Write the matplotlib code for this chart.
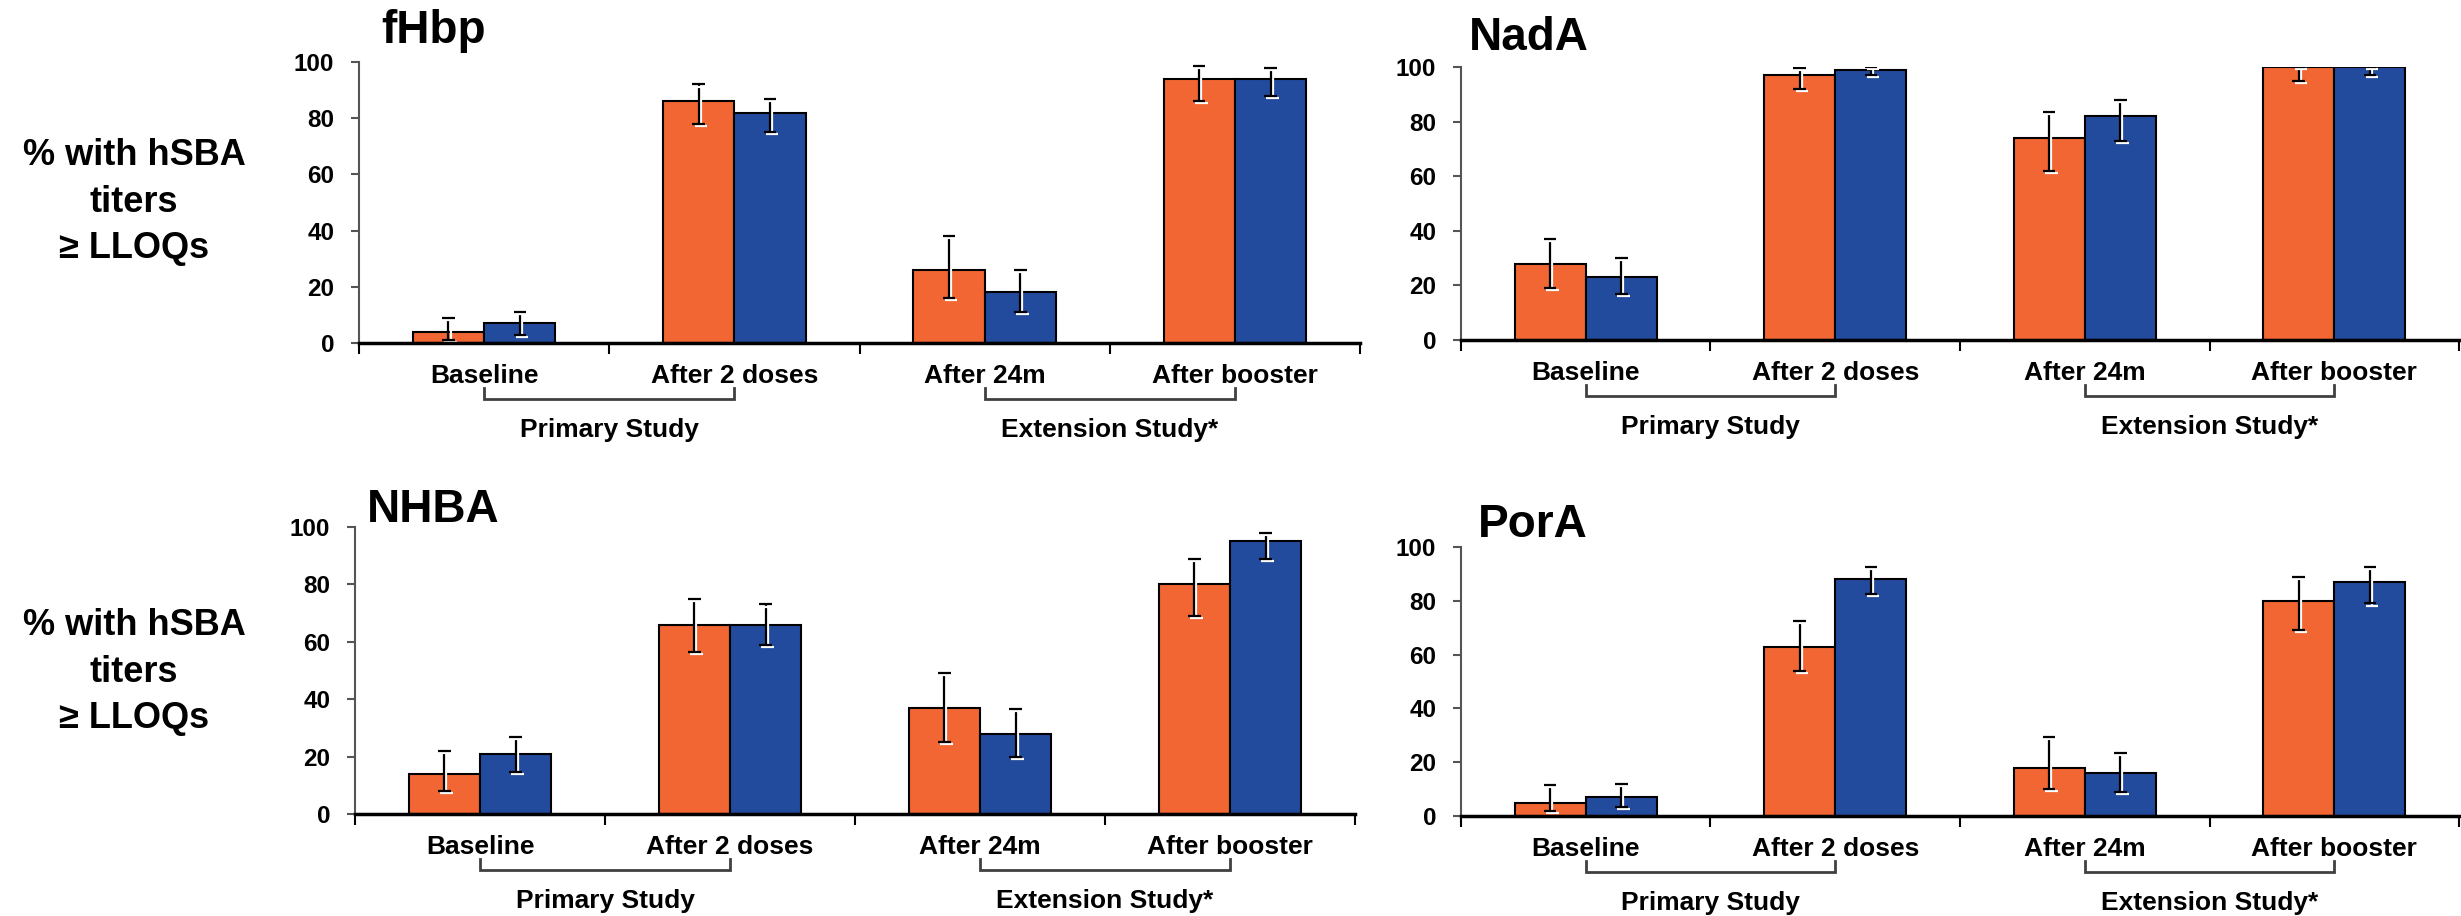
import numpy as np
import matplotlib
matplotlib.use("Agg")
import matplotlib.pyplot as plt
import matplotlib.patheffects as pe

plt.rcParams["font.family"] = ["Liberation Sans", "DejaVu Sans"]
plt.rcParams["font.weight"] = "bold"

W, H = 2461, 916
DPI = 100

categories = ["Baseline", "After 2 doses", "After 24m", "After booster"]
studies = ["Primary Study", "Extension Study*"]
study_spans = [(0, 1), (2, 3)]
ylabel = "% with hSBA\ntiters\n\u2265 LLOQs"

# orange / blue series with lower / upper CI limits
fhbp_orange = [4, 86, 26, 94]
fhbp_orange_lo = [1, 78, 16, 86]
fhbp_orange_hi = [9, 92, 38, 98.5]
fhbp_blue = [7, 82, 18, 94]
fhbp_blue_lo = [3, 75, 11, 88]
fhbp_blue_hi = [11, 87, 26, 98]

nada_orange = [28, 97, 74, 100]
nada_orange_lo = [19, 92, 62, 95]
nada_orange_hi = [37, 99.5, 83.5, 100]
nada_blue = [23, 99, 82, 100]
nada_blue_lo = [17, 97, 73, 97]
nada_blue_hi = [30, 100, 88, 100]

nhba_orange = [14, 66, 37, 80]
nhba_orange_lo = [8, 56.5, 25, 69]
nhba_orange_hi = [22, 75, 49, 89]
nhba_blue = [21, 66, 28, 95]
nhba_blue_lo = [14.5, 59, 20, 89]
nhba_blue_hi = [27, 73, 36.5, 98]

pora_orange = [5, 63, 18, 80]
pora_orange_lo = [2, 54, 10, 69]
pora_orange_hi = [11.5, 72.5, 29.5, 89]
pora_blue = [7, 88, 16, 87]
pora_blue_lo = [3.5, 82.5, 9, 79]
pora_blue_hi = [12, 92.5, 23.5, 92.5]

ORANGE = "#F26634"
BLUE = "#234B9D"
GREY = "#555555"

fig = plt.figure(figsize=(W / DPI, H / DPI), dpi=DPI)


def px_axes(left, top, right, bottom):
    return fig.add_axes([left / W, 1 - bottom / H, (right - left) / W, (bottom - top) / H])


def draw_bars(ax, x, vals, lo, hi, color):
    vals = np.asarray(vals, float)
    err = [vals - np.asarray(lo), np.asarray(hi) - vals]
    ax.bar(x, vals, width=0.285, color=color, edgecolor="black", linewidth=1.5, zorder=2)
    line, caps, bars = ax.errorbar(x, vals, yerr=err, fmt="none", ecolor="black",
                                   elinewidth=1.6, capsize=4.5, capthick=1.6, zorder=3)
    # white drop shadow, only visible over the bars
    shadow = [pe.SimpleLineShadow(offset=(1.5, -1.5), shadow_color="white", alpha=1), pe.Normal()]
    for c in caps:
        c.set_path_effects(shadow)
    for b in bars:
        b.set_path_effects(shadow)


def panel(box, title, title_pos, orange, o_lo, o_hi, blue, b_lo, b_hi):
    ax = px_axes(*box)
    ax_h = box[3] - box[1]
    x = np.arange(len(categories)) + 0.5
    draw_bars(ax, x - 0.1425, orange, o_lo, o_hi, ORANGE)
    draw_bars(ax, x + 0.1425, blue, b_lo, b_hi, BLUE)

    ax.set_xlim(0, len(categories))
    ax.set_ylim(0, 100)
    ax.set_yticks(range(0, 101, 20))
    ax.tick_params(axis="y", length=5.8, width=1.5, color=GREY, labelsize=17.5, pad=12)
    ax.set_xticks(range(len(categories) + 1))
    ax.set_xticklabels([])
    ax.set_xticks(x, minor=True)
    ax.set_xticklabels(categories, minor=True, fontsize=19)
    ax.tick_params(axis="x", which="major", length=8, width=1.5, color="black", direction="out")
    ax.tick_params(axis="x", which="minor", length=0, pad=15)
    for s in ("top", "right"):
        ax.spines[s].set_visible(False)
    ax.spines["left"].set_color(GREY)
    ax.spines["left"].set_linewidth(1.5)
    ax.spines["bottom"].set_linewidth(2.5)
    ax.spines["bottom"].set_zorder(4)

    # brackets under the category labels
    tr = ax.get_xaxis_transform()
    y_top, y_bot, y_txt = -45 / ax_h, -56 / ax_h, -94 / ax_h
    for name, (a, b) in zip(studies, study_spans):
        ax.plot([x[a], x[a], x[b], x[b]], [y_top, y_bot, y_bot, y_top], transform=tr,
                color="#404040", linewidth=2, clip_on=False, solid_joinstyle="miter")
        ax.text((x[a] + x[b]) / 2, y_txt, name, transform=tr, ha="center", va="baseline",
                fontsize=19)

    fig.text(title_pos[0] / W, 1 - title_pos[1] / H, title, fontsize=33,
             ha="left", va="baseline")
    return ax


panel((359, 62, 1360, 343), "fHbp", (381, 43),
      fhbp_orange, fhbp_orange_lo, fhbp_orange_hi, fhbp_blue, fhbp_blue_lo, fhbp_blue_hi)
panel((1461, 67, 2459, 340), "NadA", (1469, 50),
      nada_orange, nada_orange_lo, nada_orange_hi, nada_blue, nada_blue_lo, nada_blue_hi)
panel((355, 527, 1355, 814), "NHBA", (367, 522),
      nhba_orange, nhba_orange_lo, nhba_orange_hi, nhba_blue, nhba_blue_lo, nhba_blue_hi)
panel((1461, 547, 2459, 816), "PorA", (1478, 537),
      pora_orange, pora_orange_lo, pora_orange_hi, pora_blue, pora_blue_lo, pora_blue_hi)

for yc in (202, 672):
    fig.text(134 / W, 1 - yc / H, ylabel, fontsize=26, ha="center", va="center",
             linespacing=1.42)

fig.savefig("out.png", dpi=DPI)
